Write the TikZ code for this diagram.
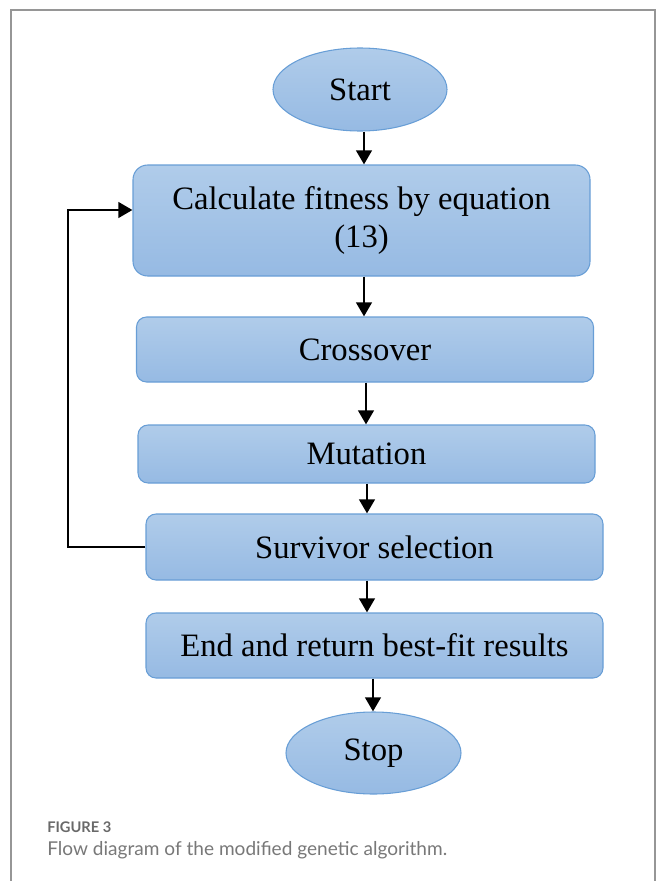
\documentclass[tikz,border=0pt]{standalone}
\usepackage{fontspec}
\setmainfont{Liberation Serif}
\newfontfamily\capfont{Lato}
\usetikzlibrary{arrows.meta,shapes.geometric,calc}
\definecolor{boxtop}{RGB}{176,204,234}
\definecolor{boxbot}{RGB}{150,186,227}
\definecolor{boxline}{RGB}{104,158,214}
\definecolor{framegray}{RGB}{150,150,150}
\definecolor{capgray}{RGB}{105,105,105}
\definecolor{capgraylight}{RGB}{120,120,120}
\tikzset{
  flowbox/.style={rectangle, rounded corners=7.5pt, draw=boxline, line width=0.8pt,
    top color=boxtop, bottom color=boxbot, minimum width=342.75pt,
    align=center, font=\fontsize{24.5}{28}\selectfont, inner sep=0pt},
  term/.style={ellipse, draw=boxline, line width=0.8pt,
    top color=boxtop, bottom color=boxbot, inner sep=0pt,
    font=\fontsize{24.5}{28}\selectfont},
  arr/.style={line width=2.2pt, -{Triangle[width=11.5pt,length=10.5pt]}},
  feed/.style={line width=2.2pt, -{Triangle[width=11.5pt,length=10.5pt]}},
}
\begin{document}
\begin{tikzpicture}[x=0.75pt,y=-0.75pt]
\useasboundingbox (0,0) rectangle (656,881);
\draw[framegray, line width=0.9pt] (11,881) -- (11,10) -- (655,10) -- (655,881);

\node[term, minimum width=130.5pt, minimum height=62.25pt] (start) at (360,89.5) {Start};
\node[flowbox, rounded corners=11pt, minimum height=83.25pt] (b1) at (361.5,220.5) {Calculate fitness by equation\\(13)};
\node[flowbox, minimum height=48.75pt] (b2) at (365,349.5) {Crossover};
\node[flowbox, minimum height=43.5pt] (b3) at (366.5,454) {Mutation};
\node[flowbox, minimum height=49.5pt] (b4) at (374.5,547) {Survivor selection};
\node[flowbox, minimum height=48.75pt] (b5) at (374.5,645.5) {End and return best-fit results};
\node[term, minimum width=131.25pt, minimum height=61.5pt] (stop) at (373.5,753) {Stop};

\coordinate (x1) at (364,0);
\coordinate (x2) at (364,0);
\coordinate (x3) at (366,0);
\coordinate (x4) at (367,0);
\coordinate (x5) at (367,0);
\coordinate (x6) at (373,0);
\coordinate (fb) at (68,210);

\draw[arr] (start.south -| x1) -- (b1.north -| x1);
\draw[arr] (b1.south -| x2) -- (b2.north -| x2);
\draw[arr] (b2.south -| x3) -- (b3.north -| x3);
\draw[arr] (b3.south -| x4) -- (b4.north -| x4);
\draw[arr] (b4.south -| x5) -- (b5.north -| x5);
\draw[arr] (b5.south -| x6) -- (stop.north -| x6);
\draw[feed] (b4.west) -| (fb) -- (fb -| b1.west);

\node[anchor=base west, inner sep=0pt, text=capgray, font=\capfont\bfseries\fontsize{11}{12}\selectfont] (cap1) at (47,832) {FIGURE 3};
\node[anchor=base west, inner sep=0pt, text=capgraylight, font=\capfont\fontsize{14.3}{16}\selectfont] (cap2) at (47,855) {Flow diagram of the modified genetic algorithm.};
\end{tikzpicture}
\end{document}
